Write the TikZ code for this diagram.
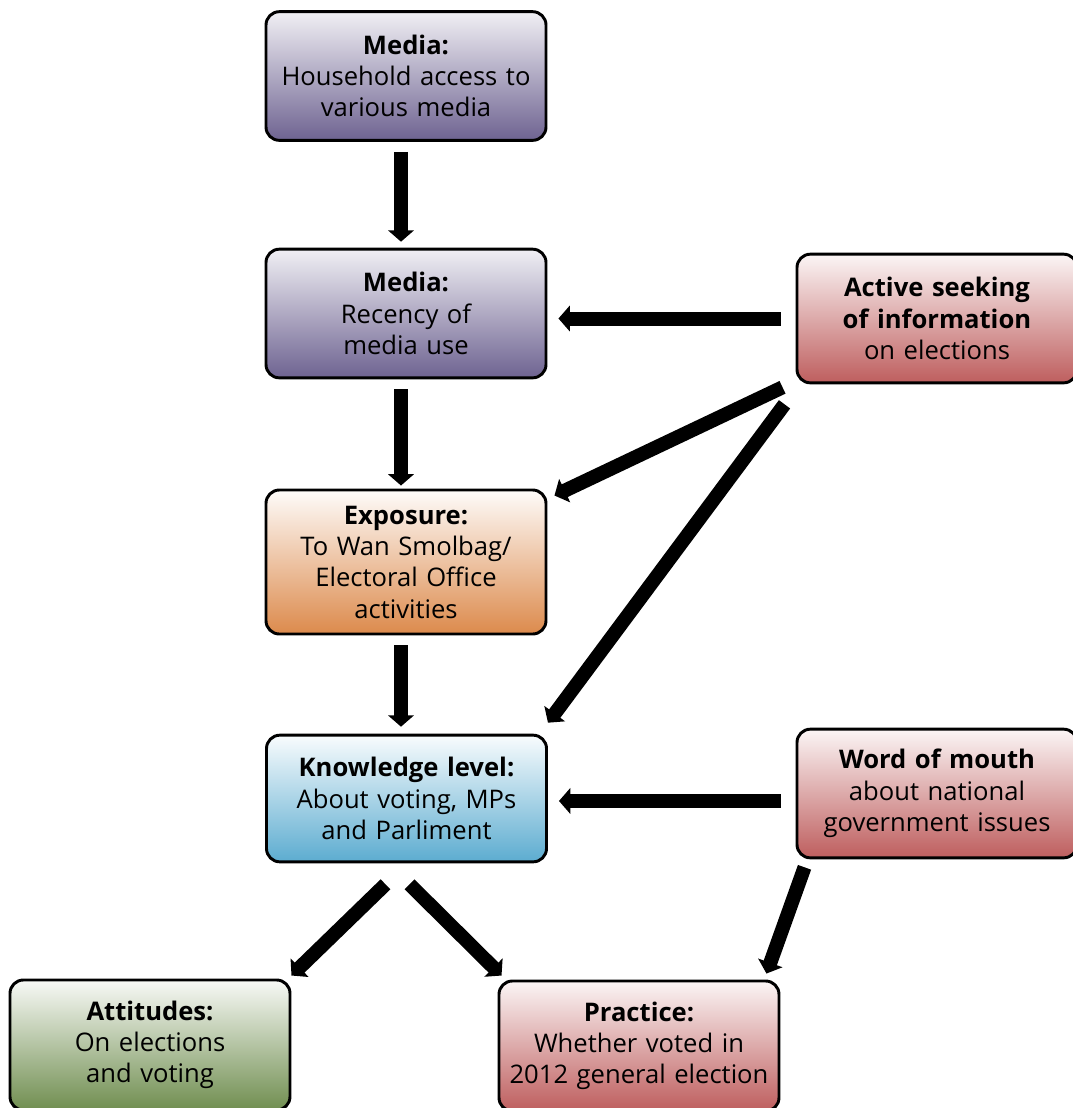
\documentclass[tikz,border=0pt]{standalone}
\usepackage{fontspec}
\setmainfont{Open Sans}
\usetikzlibrary{arrows.meta}
\definecolor{mediapurple}{RGB}{110,99,145}
\definecolor{exposureorange}{RGB}{220,138,76}
\definecolor{knowblue}{RGB}{92,172,208}
\definecolor{seekred}{RGB}{190,94,94}
\definecolor{attgreen}{RGB}{112,142,80}
\tikzset{
  box/.style={
    draw=black,
    line width=2.2pt,
    rounded corners=10pt,
    minimum width=210pt,
    minimum height=96.5pt,
    text width=208pt,
    align=center,
    inner sep=0pt,
    font=\fontsize{19.2}{23.5}\selectfont
  },
  purplebox/.style={box, top color=white!90!mediapurple, bottom color=mediapurple},
  orangebox/.style={box, top color=white!97!exposureorange, bottom color=exposureorange},
  bluebox/.style={box, top color=white!96!knowblue, bottom color=knowblue},
  redbox/.style={box, top color=white!94!seekred, bottom color=seekred},
  greenbox/.style={box, top color=white!95!attgreen, bottom color=attgreen},
  arrow/.style={
    -{Triangle[width=19pt,length=8.5pt]},
    line width=10.5pt,
    black
  }
}

\begin{document}
\begin{tikzpicture}[x=0.75pt,y=-0.75pt]
\useasboundingbox (0,0) rectangle (1073,1108);
\node[purplebox] (access) at (406,76) {\textbf{Media:}\\Household access to\\various media};
\node[purplebox] (recency) at (406,313.5) {\textbf{Media:}\\Recency of\\media use};
\node[orangebox, minimum height=108pt] (exposure) at (406,562) {\textbf{Exposure:}\\To Wan Smolbag/\\Electoral Office\\activities};
\node[bluebox, minimum height=95pt] (knowledge) at (406.5,798.5) {\textbf{Knowledge level:}\\About voting, MPs\\and Parliment};
\node[redbox] (seeking) at (937,318.5) {\textbf{Active seeking}\\\textbf{of information}\\on elections};
\node[redbox] (mouth) at (937,793.5) {\textbf{Word of mouth}\\about national\\government issues};
\node[greenbox, minimum height=97.5pt] (attitudes) at (150,1045) {\textbf{Attitudes:}\\On elections\\and voting};
\node[redbox, minimum height=97.5pt] (practice) at (639,1046) {\textbf{Practice:}\\Whether voted in\\2012 general election};

\draw[arrow, shorten <=7.5pt, shorten >=4.5pt] ([xshift=-3.75pt]access.south) -- ([xshift=-3.75pt]recency.north);
\draw[arrow, shorten <=7.5pt, shorten >=2.25pt] ([xshift=-3.75pt]recency.south) -- ([xshift=-3.75pt]exposure.north);
\draw[arrow, shorten <=7.5pt, shorten >=5.25pt] ([xshift=-3.75pt]exposure.south) -- ([xshift=-3.75pt]exposure.south |- knowledge.north);
\draw[arrow, shorten <=11.25pt, shorten >=8.25pt] (seeking.west) -- (seeking.west -| recency.east);
\draw[arrow] ([xshift=-9.75pt,yshift=-2.25pt]seeking.south west) -- ([xshift=5.25pt,yshift=-5.25pt]exposure.north east);
\draw[arrow] ([xshift=-8.25pt,yshift=-15pt]seeking.south west) -- ([yshift=8.25pt]knowledge.north east);
\draw[arrow, shorten <=11.25pt, shorten >=8.25pt] ([yshift=-5.6pt]mouth.west) -- ([yshift=-5.6pt]mouth.west -| knowledge.east);
\draw[arrow] ([xshift=-15.75pt,yshift=-15.75pt]knowledge.south) -- ([yshift=2.25pt]attitudes.north east);
\draw[arrow] ([xshift=2.25pt,yshift=-15.75pt]knowledge.south) -- ([xshift=3pt,yshift=3pt]practice.north west);
\draw[arrow] ([xshift=6.75pt,yshift=-6pt]mouth.south west) -- ([xshift=-10.5pt,yshift=4.5pt]practice.north east);
\end{tikzpicture}
\end{document}
